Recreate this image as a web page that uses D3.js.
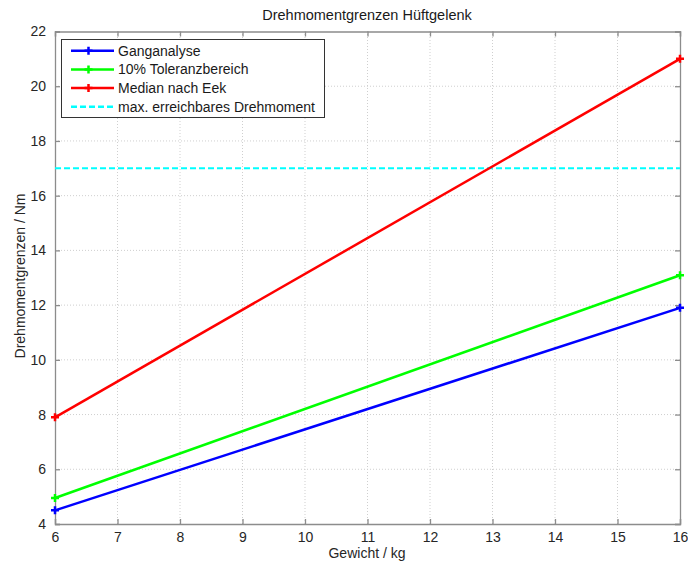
<!DOCTYPE html>
<html>
<head>
<meta charset="utf-8">
<script src="https://cdn.jsdelivr.net/npm/d3@7"></script>
<style>
  body { margin: 0; background: #fff; }
  text { font-family: "Liberation Sans", Arial, sans-serif; }
</style>
</head>
<body>
<svg id="chart" width="688" height="564"></svg>
<script>
// Torque limits of the hip joint vs. body weight
const weights = [6, 16];
const gangAnalyse = [4.5, 11.9];
const toleranz = [4.95, 13.09];
const medianEek = [7.9, 21.0];
const maxTorque = 17.0;

const xTicks = [6, 7, 8, 9, 10, 11, 12, 13, 14, 15, 16];
const yTicks = [4, 6, 8, 10, 12, 14, 16, 18, 20, 22];

const series = [
  { name: "Ganganalyse", values: gangAnalyse, color: "#0000ff" },
  { name: "10% Toleranzbereich", values: toleranz, color: "#00ff00" },
  { name: "Median nach Eek", values: medianEek, color: "#ff0000" }
];

const svg = d3.select("#chart");
const m = { left: 55, right: 8, top: 31.5, bottom: 40 };
const W = 688, H = 564;
const x = d3.scaleLinear().domain([6, 16]).range([m.left, W - m.right]);
const y = d3.scaleLinear().domain([4, 22]).range([H - m.bottom, m.top]);

const axisColor = "#8c8c8c";
const gridColor = "#cfcfcf";

// grid
const grid = svg.append("g");
grid.selectAll(".gx").data(xTicks.slice(1, -1)).enter().append("line")
  .attr("x1", d => x(d)).attr("x2", d => x(d))
  .attr("y1", y(4)).attr("y2", y(22))
  .attr("stroke", gridColor).attr("stroke-dasharray", "1,2");
grid.selectAll(".gy").data(yTicks.slice(1, -1)).enter().append("line")
  .attr("y1", d => y(d)).attr("y2", d => y(d))
  .attr("x1", x(6)).attr("x2", x(16))
  .attr("stroke", gridColor).attr("stroke-dasharray", "1,2");

// axes (ticks pointing inward, mirrored on all sides)
const tl = 5;
const axB = svg.append("g").attr("transform", `translate(0,${y(4)})`)
  .call(d3.axisBottom(x).tickValues(xTicks).tickSize(-tl).tickPadding(8).tickFormat(d3.format("d")));
const axT = svg.append("g").attr("transform", `translate(0,${y(22)})`)
  .call(d3.axisTop(x).tickValues(xTicks).tickSize(-tl).tickFormat(""));
const axL = svg.append("g").attr("transform", `translate(${x(6)},0)`)
  .call(d3.axisLeft(y).tickValues(yTicks).tickSize(-tl).tickPadding(9).tickFormat(d3.format("d")));
const axR = svg.append("g").attr("transform", `translate(${x(16)},0)`)
  .call(d3.axisRight(y).tickValues(yTicks).tickSize(-tl).tickFormat(""));
[axB, axT, axL, axR].forEach(a => {
  a.selectAll("path").attr("stroke", axisColor).attr("stroke-width", 1.3);
  a.selectAll("line").attr("stroke", axisColor).attr("stroke-width", 1.3);
  a.selectAll("text").attr("fill", "#262626").style("font-size", "14px");
});

// max reachable torque
svg.append("line")
  .attr("x1", x(6)).attr("x2", x(16))
  .attr("y1", y(maxTorque)).attr("y2", y(maxTorque))
  .attr("stroke", "#00ffff").attr("stroke-width", 2).attr("stroke-dasharray", "6,3");

// series lines with + markers
const line = d3.line().x((d, i) => x(weights[i])).y(d => y(d));
series.forEach(s => {
  svg.append("path").datum(s.values)
    .attr("d", line).attr("fill", "none")
    .attr("stroke", s.color).attr("stroke-width", 2.5);
  s.values.forEach((v, i) => {
    const cx = x(weights[i]), cy = y(v);
    svg.append("path")
      .attr("d", `M${cx - 4},${cy}H${cx + 4}M${cx},${cy - 4}V${cy + 4}`)
      .attr("stroke", s.color).attr("stroke-width", 2.5);
  });
});

// title and axis labels
svg.append("text").attr("x", 367).attr("y", 20).attr("text-anchor", "middle")
  .style("font-size", "14.5px").attr("fill", "#1a1a1a").text("Drehmomentgrenzen Hüftgelenk");
svg.append("text").attr("x", 367).attr("y", 558).attr("text-anchor", "middle")
  .style("font-size", "14px").attr("fill", "#262626").text("Gewicht / kg");
svg.append("text").attr("transform", "translate(25,276) rotate(-90)").attr("text-anchor", "middle")
  .style("font-size", "14px").attr("fill", "#262626").text("Drehmomentgrenzen / Nm");

// legend
const lg = svg.append("g");
lg.append("rect").attr("x", 61.5).attr("y", 39.5).attr("width", 263).attr("height", 78)
  .attr("fill", "#fff").attr("stroke", "#333").attr("stroke-width", 1);
const legendItems = series.map(s => ({ name: s.name, color: s.color, dash: null, marker: true }))
  .concat([{ name: "max. erreichbares Drehmoment", color: "#00ffff", dash: "6,3", marker: false }]);
legendItems.forEach((it, i) => {
  const yy = 50.7 + i * 18.7;
  lg.append("line").attr("x1", 71).attr("x2", 114).attr("y1", yy).attr("y2", yy)
    .attr("stroke", it.color).attr("stroke-width", 2.5)
    .attr("stroke-dasharray", it.dash);
  if (it.marker) {
    lg.append("path").attr("d", `M88.5,${yy - 4}V${yy + 4}M84.5,${yy}H92.5`)
      .attr("stroke", it.color).attr("stroke-width", 2.5);
  }
  lg.append("text").attr("x", 118).attr("y", yy + 5)
    .style("font-size", "14px").attr("fill", "#1a1a1a").text(it.name);
});
</script>
</body>
</html>
